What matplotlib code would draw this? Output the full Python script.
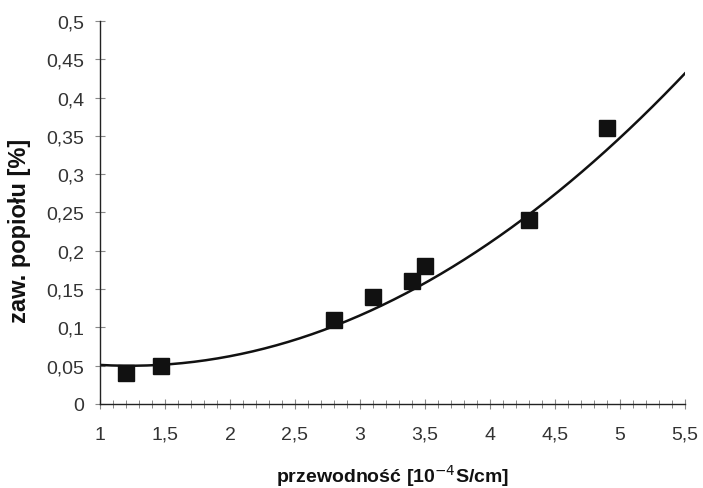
import matplotlib
matplotlib.use('Agg')
import matplotlib.pyplot as plt
import numpy as np

# measured points (conductivity vs ash content)
przewodnosc = [1.2, 1.47, 2.8, 3.1, 3.4, 3.5, 4.3, 4.9]
popiol = [0.04, 0.05, 0.11, 0.14, 0.16, 0.18, 0.24, 0.36]

# 2nd order trend line: y = a*(x-1)^2 + b*(x-1) + c
trend_a = 0.0209
trend_b = -0.0095
trend_c = 0.051
trend_range = [1, 5.5]

x_ticks = [1, 1.5, 2, 2.5, 3, 3.5, 4, 4.5, 5, 5.5]
x_labels = ['1', '1,5', '2', '2,5', '3', '3,5', '4', '4,5', '5', '5,5']
y_ticks = [0, 0.05, 0.1, 0.15, 0.2, 0.25, 0.3, 0.35, 0.4, 0.45, 0.5]
y_labels = ['0', '0,05', '0,1', '0,15', '0,2', '0,25', '0,3', '0,35', '0,4', '0,45', '0,5']

plt.rcParams['font.family'] = ['Liberation Sans', 'DejaVu Sans']

fig = plt.figure(figsize=(7.03, 4.89), dpi=100)
ax = fig.add_axes([0.1422, 0.1718, 0.832, 0.7832])

xs = np.linspace(trend_range[0], trend_range[1], 200)
ax.plot(xs, np.polyval([trend_a, trend_b, trend_c], xs - 1), color='#111111', linewidth=1.8, zorder=2)
ax.plot(przewodnosc, popiol, 's', color='#111111', markersize=11, zorder=3)

ax.set_xlim(1, 5.5)
ax.set_ylim(0, 0.5)
ax.set_xticks(x_ticks)
ax.set_xticklabels(x_labels)
ax.set_yticks(y_ticks)
ax.set_yticklabels(y_labels)
ax.set_xticks(np.arange(1, 5.51, 0.1), minor=True)

ax.tick_params(axis='both', which='major', labelsize=14, colors='#333333',
               direction='inout', length=7, width=0.8, color='#888888')
ax.tick_params(axis='x', which='major', pad=12)
ax.tick_params(axis='y', which='major', pad=8)
ax.tick_params(axis='x', which='minor', direction='inout', length=6, width=0.7, color='#888888')

for side in ['top', 'right']:
    ax.spines[side].set_visible(False)
for side in ['left', 'bottom']:
    ax.spines[side].set_color('#222222')
    ax.spines[side].set_linewidth(1.0)

ax.set_xlabel('przewodność [10$^{-4}$S/cm]', fontsize=14, fontweight='bold', color='#111111', labelpad=14)
ax.set_ylabel('zaw. popiołu [%]', fontsize=17, fontweight='bold', color='#111111')
ax.yaxis.set_label_coords(-0.118, 0.454)

fig.savefig('out.png', dpi=100)
plt.close(fig)
